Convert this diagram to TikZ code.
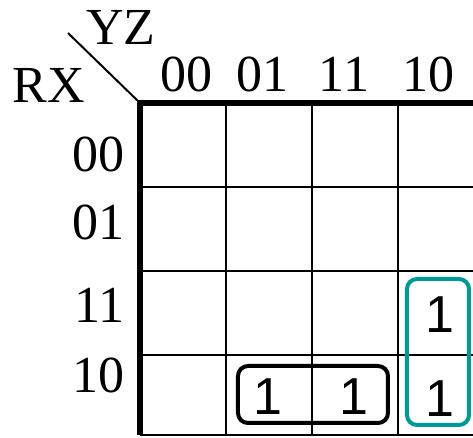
\documentclass[tikz,border=0pt]{standalone}
\usepackage{fontspec}
\setmainfont{Liberation Serif}
\newfontfamily\onefont{Liberation Sans}
\usetikzlibrary{positioning}
\definecolor{groupteal}{RGB}{0,153,153}

\begin{document}
\begin{tikzpicture}[x=0.5pt,y=-0.5pt,
  lbl/.style={font=\fontsize{26}{30}\selectfont,inner sep=0pt,anchor=base},
  one/.style={font=\onefont\fontsize{26}{30}\selectfont,inner sep=0pt,anchor=base},
  grp/.style={line width=2pt,rounded corners=5pt}]
  \useasboundingbox (0,0) rectangle (473,438);
  \clip (0,0) rectangle (473,438);

  % Grid
  \foreach \x in {226,312,398} \draw[line width=1.4pt] (\x,103) -- (\x,435);
  \foreach \y in {187,271,355,435} \draw[line width=1.4pt] (140,\y) -- (484,\y);
  \draw[line width=3pt] (140,435) -- (140,103) -- (484,103);

  % Corner with variable names
  \coordinate (corner) at (140,103);
  \coordinate (tick) at (68,33);
  \draw[line width=1pt] (tick) -- (corner);
  \node[lbl] (yz) at (121,45) {YZ};
  \node[lbl] (rx) at (49,103) {RX};

  % Column and row labels
  \foreach \t/\x in {00/187,01/263,11/344,10/429}
    \node[lbl] (col\t) at (\x,92) {\t};
  \foreach \t/\y in {00/172,01/240,11/323,10/393}
    \node[lbl,anchor=base east] (row\t) at (125,\y) {\t};

  % Ones
  \node[one] (m1) at (268,415) {1};
  \node[one] (m2) at (354,415) {1};
  \node[one] (m3) at (440,333) {1};
  \node[one] (m4) at (440,417) {1};

  % Groups
  \draw[grp] (238,366) rectangle (388,423);
  \draw[grp,groupteal] (407,279) rectangle (469,425);
\end{tikzpicture}
\end{document}
